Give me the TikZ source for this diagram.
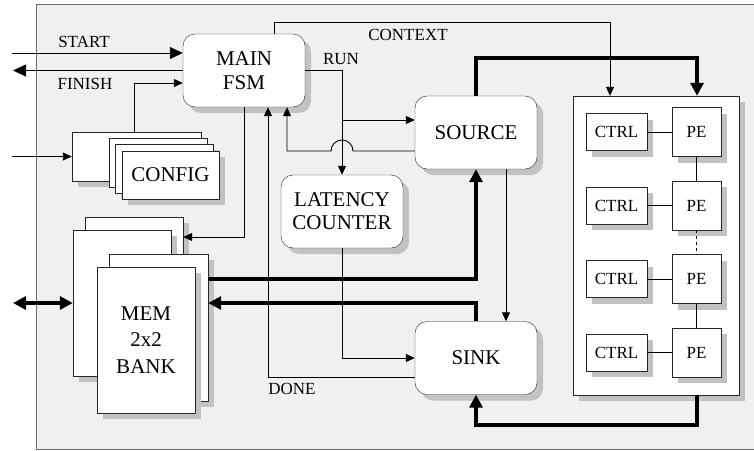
\documentclass[tikz,border=0pt]{standalone}
\usepackage{fontspec}
\setmainfont{Liberation Serif}
\usetikzlibrary{arrows.meta,shadows}
\definecolor{panel}{RGB}{240,240,240}
\definecolor{framegray}{RGB}{110,110,110}
\definecolor{shadegray}{RGB}{194,194,194}
\tikzset{
    boxshadow/.style={drop shadow={shadow xshift=6pt,shadow yshift=-6pt,fill=shadegray,opacity=1}},
    unit/.style={draw=black!85,fill=white,rounded corners=12pt,boxshadow,minimum width=122pt,minimum height=73pt,inner sep=0pt,align=center,font=\fontsize{21}{24}\selectfont},
    card/.style={draw=black!85,fill=white,boxshadow,inner sep=0pt,align=center},
    bigtext/.style={font=\fontsize{21}{26.5}\selectfont},
    smalltext/.style={font=\fontsize{17}{20}\selectfont},
    lbl/.style={inner sep=0pt,font=\fontsize{17}{20}\selectfont},
    link/.style={line width=0.9pt},
    sig/.style={line width=0.9pt,-{Triangle[length=9pt,width=8pt]}},
    iosig/.style={line width=0.9pt,-{Triangle[length=13pt,width=12pt]}},
    bus/.style={line width=3.6pt,-{Triangle[length=13pt,width=13pt]}},
}
\begin{document}
\begin{tikzpicture}
    \useasboundingbox (0pt,0pt) rectangle (754pt,-450pt);
    \draw[draw=framegray,fill=panel,line width=1pt] (36pt,-4pt) rectangle (770pt,-449pt);

    \node[card,minimum width=129pt,minimum height=49pt] (cfgback) at (136.5pt,-156.5pt) {};
    \node[card,minimum width=98pt,minimum height=49pt] (cfgmid) at (158pt,-162.5pt) {};
    \node[card,minimum width=98pt,minimum height=49pt] (cfgnext) at (164pt,-168.5pt) {};
    \node[card,bigtext,minimum width=97pt,minimum height=48pt] (config) at (170.5pt,-175pt) {CONFIG};

    \node[card,minimum width=98pt,minimum height=146pt] (memA) at (134pt,-290pt) {};
    \node[card,minimum width=98pt,minimum height=146pt] (memB) at (122pt,-303pt) {};
    \node[card,minimum width=99pt,minimum height=147pt] (memC) at (158.5pt,-327.5pt) {};
    \node[card,bigtext,minimum width=98pt,minimum height=146pt] (memD) at (146pt,-340pt) {MEM\\2x2\\BANK};

    \node[unit] (main) at (244pt,-70.5pt) {MAIN\\FSM};
    \node[unit] (source) at (476pt,-132.5pt) {SOURCE};
    \node[unit,font=\fontsize{21}{23}\selectfont] (latency) at (342pt,-211.5pt) {LATENCY\\COUNTER};
    \node[unit] (sink) at (476pt,-358pt) {SINK};

    \node[card,minimum width=166pt,minimum height=299pt] (pearray) at (656pt,-245.5pt) {};
    \foreach \i/\y in {1/132,2/205.5,3/279,4/352.5} {
        \node[card,smalltext,minimum width=61pt,minimum height=37pt] (ctrl\i) at (616.5pt,-\y*1pt) {CTRL};
        \node[card,smalltext,minimum width=49pt,minimum height=49pt] (pe\i) at (696.5pt,-\y*1pt) {PE};
        \draw[link] (ctrl\i) -- (pe\i);
    }
    \draw[link] (pe1) -- (pe2);
    \draw[link,dash pattern=on 3pt off 3pt] (pe2) -- (pe3);
    \draw[link] (pe3) -- (pe4);

    \node[lbl] (startlbl) at (84pt,-42pt) {START};
    \node[lbl] (finishlbl) at (85pt,-84pt) {FINISH};
    \node[lbl] (contextlbl) at (408pt,-35pt) {CONTEXT};
    \node[lbl] (runlbl) at (341pt,-59pt) {RUN};
    \node[lbl] (donelbl) at (292pt,-389pt) {DONE};

    \coordinate (startin) at (12pt,-53pt);
    \coordinate (finishout) at (13pt,-70.5pt);
    \coordinate (cfgin) at (12pt,-156.5pt);
    \coordinate (memio) at (13pt,-303pt);
    \coordinate (srcin) at ([yshift=12.5pt]source.west);
    \coordinate (srcout) at ([yshift=-18.5pt]source.west);
    \coordinate (hop) at (srcout -| latency.north);

    \draw[iosig] (startin) -- (startin -| main.west);
    \draw[iosig] (main.west) -- (finishout);
    \draw[sig] ([xshift=-2.5pt]cfgback.north) |- ([yshift=-12.5pt]main.west);
    \draw[sig] (cfgin) -- (cfgback.west);
    \draw[sig] ([xshift=30pt]main.north) -- ++(0pt,11pt) -| ([xshift=-46pt]pearray.north);
    \draw[sig] (main.east) -| (latency.north);
    \draw[sig] (srcin -| latency.north) -- (srcin);
    \draw[sig] (srcout) -- ([xshift=11pt]hop) arc[start angle=0,end angle=180,radius=11pt] -| ([xshift=43pt]main.south);
    \draw[sig] (main.south) |- ([yshift=53pt]memA.east);
    \draw[sig] ([yshift=-19pt]sink.west) -| ([xshift=24pt]main.south);
    \draw[sig] (latency.south) |- (sink.west);
    \draw[sig] ([xshift=30pt]source.south) -- ([xshift=30pt]sink.north);

    \draw[bus] (source.north) -- ++(0pt,38pt) -| ([xshift=41pt]pearray.north);
    \draw[bus] ([yshift=48.5pt]memC.east) -| (source.south);
    \draw[bus] (sink.north) |- ([yshift=24.5pt]memC.east);
    \draw[bus] ([xshift=41pt]pearray.south) -- ++(0pt,-30pt) -| (sink.south);
    \draw[bus,{Triangle[length=13pt,width=13pt]}-{Triangle[length=13pt,width=13pt]}] (memio) -- (memio -| memB.west);
\end{tikzpicture}
\end{document}
